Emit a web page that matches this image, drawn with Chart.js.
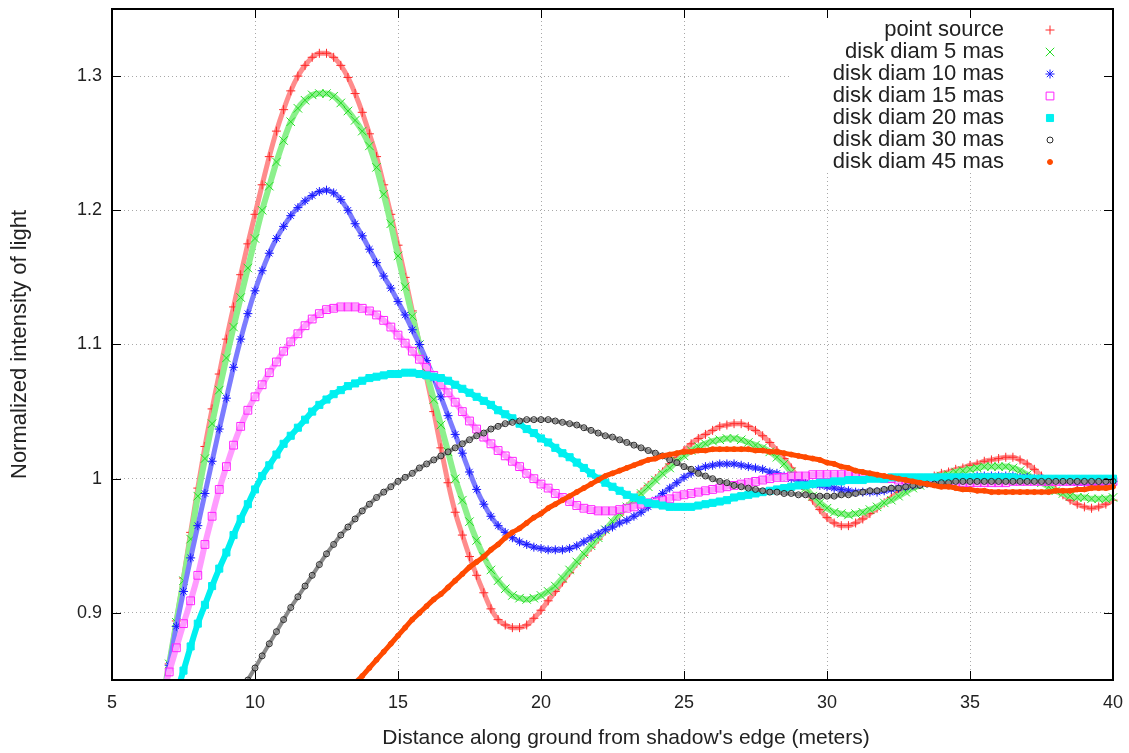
<!DOCTYPE html>
<html>
<head>
<meta charset="utf-8">
<title>Normalized intensity of light</title>
<script src="https://cdn.jsdelivr.net/npm/chart.js@4.4.1/dist/chart.umd.min.js"></script>
<style>
  html, body { margin: 0; padding: 0; background: #fff; }
  #wrap { width: 1129px; height: 753px; }
</style>
</head>
<body>
<div id="wrap"><canvas id="intensityChart" width="1129" height="753"></canvas></div>
<script>
// sample positions along the ground (m), one row per metre
const distance = [
  6.75,
  7, 7.25, 7.5, 7.75,
  8, 8.25, 8.5, 8.75,
  9, 9.25, 9.5, 9.75,
  10, 10.25, 10.5, 10.75,
  11, 11.25, 11.5, 11.75,
  12, 12.25, 12.5, 12.75,
  13, 13.25, 13.5, 13.75,
  14, 14.25, 14.5, 14.75,
  15, 15.25, 15.5, 15.75,
  16, 16.25, 16.5, 16.75,
  17, 17.25, 17.5, 17.75,
  18, 18.25, 18.5, 18.75,
  19, 19.25, 19.5, 19.75,
  20, 20.25, 20.5, 20.75,
  21, 21.25, 21.5, 21.75,
  22, 22.25, 22.5, 22.75,
  23, 23.25, 23.5, 23.75,
  24, 24.25, 24.5, 24.75,
  25, 25.25, 25.5, 25.75,
  26, 26.25, 26.5, 26.75,
  27, 27.25, 27.5, 27.75,
  28, 28.25, 28.5, 28.75,
  29, 29.25, 29.5, 29.75,
  30, 30.25, 30.5, 30.75,
  31, 31.25, 31.5, 31.75,
  32, 32.25, 32.5, 32.75,
  33, 33.25, 33.5, 33.75,
  34, 34.25, 34.5, 34.75,
  35, 35.25, 35.5, 35.75,
  36, 36.25, 36.5, 36.75,
  37, 37.25, 37.5, 37.75,
  38, 38.25, 38.5, 38.75,
  39, 39.25, 39.5, 39.75,
  40
];

const pointSource = [
  0.832,
  0.862, 0.894, 0.926, 0.96,
  0.993, 1.024, 1.052, 1.078,
  1.104, 1.128, 1.152, 1.175,
  1.197, 1.219, 1.24, 1.259,
  1.275, 1.289, 1.3, 1.308,
  1.314, 1.317, 1.317, 1.314,
  1.308, 1.299, 1.287, 1.273,
  1.257, 1.24, 1.219, 1.197,
  1.174, 1.15, 1.125, 1.1,
  1.075, 1.05, 1.023, 0.997,
  0.975, 0.958, 0.942, 0.928,
  0.915, 0.903, 0.895, 0.891,
  0.889, 0.889, 0.891, 0.896,
  0.902, 0.909, 0.916, 0.923,
  0.93, 0.937, 0.943, 0.949,
  0.955, 0.961, 0.967, 0.973,
  0.979, 0.984, 0.99, 0.995,
  1.0, 1.005, 1.011, 1.016,
  1.021, 1.026, 1.03, 1.033,
  1.036, 1.039, 1.04, 1.041,
  1.041, 1.039, 1.036, 1.032,
  1.027, 1.021, 1.015, 1.008,
  1.0, 0.992, 0.984, 0.977,
  0.971, 0.967, 0.965, 0.965,
  0.967, 0.97, 0.974, 0.978,
  0.982, 0.986, 0.99, 0.993,
  0.996, 0.998, 1.0, 1.002,
  1.004, 1.005, 1.007, 1.008,
  1.01, 1.011, 1.013, 1.014,
  1.015, 1.016, 1.016, 1.014,
  1.011, 1.007, 1.002, 0.997,
  0.992, 0.988, 0.984, 0.981,
  0.979, 0.978, 0.979, 0.981,
  0.984
];

const disk5 = [
  0.834,
  0.862, 0.893, 0.924, 0.955,
  0.987, 1.015, 1.041, 1.066,
  1.09, 1.113, 1.135, 1.157,
  1.179, 1.2, 1.218, 1.236,
  1.252, 1.266, 1.276, 1.282,
  1.286, 1.287, 1.287, 1.285,
  1.28, 1.274, 1.267, 1.259,
  1.248, 1.232, 1.212, 1.19,
  1.166, 1.143, 1.121, 1.1,
  1.079, 1.059, 1.04, 1.02,
  1.0, 0.984, 0.968, 0.954,
  0.942, 0.932, 0.924, 0.918,
  0.913, 0.911, 0.91, 0.911,
  0.913, 0.916, 0.92, 0.926,
  0.932, 0.938, 0.944, 0.95,
  0.956, 0.962, 0.968, 0.974,
  0.979, 0.984, 0.989, 0.994,
  0.999, 1.004, 1.008, 1.013,
  1.017, 1.021, 1.024, 1.026,
  1.028, 1.029, 1.03, 1.03,
  1.029, 1.027, 1.025, 1.023,
  1.02, 1.016, 1.011, 1.005,
  0.999, 0.993, 0.987, 0.982,
  0.978, 0.975, 0.974, 0.973,
  0.974, 0.975, 0.977, 0.979,
  0.982, 0.984, 0.987, 0.99,
  0.993, 0.995, 0.998, 1.0,
  1.002, 1.003, 1.005, 1.006,
  1.007, 1.008, 1.009, 1.009,
  1.009, 1.009, 1.008, 1.006,
  1.003, 1.0, 0.997, 0.994,
  0.991, 0.989, 0.987, 0.986,
  0.986, 0.985, 0.985, 0.985,
  0.986
];

const disk10 = [
  0.833,
  0.861, 0.89, 0.916, 0.941,
  0.965, 0.989, 1.013, 1.037,
  1.06, 1.083, 1.104, 1.123,
  1.14, 1.155, 1.168, 1.179,
  1.188, 1.196, 1.202, 1.207,
  1.211, 1.214, 1.215, 1.213,
  1.208, 1.2, 1.19, 1.181,
  1.171, 1.161, 1.151, 1.142,
  1.132, 1.122, 1.111, 1.1,
  1.088, 1.075, 1.061, 1.047,
  1.033, 1.019, 1.005, 0.992,
  0.981, 0.972, 0.965, 0.96,
  0.956, 0.953, 0.951, 0.949,
  0.948, 0.947, 0.947, 0.947,
  0.948, 0.95, 0.953, 0.956,
  0.959, 0.962, 0.964, 0.967,
  0.969, 0.972, 0.975, 0.979,
  0.984, 0.989, 0.993, 0.997,
  1.001, 1.004, 1.007, 1.009,
  1.01, 1.011, 1.011, 1.011,
  1.01, 1.009, 1.008, 1.007,
  1.005, 1.004, 1.002, 1.0,
  0.999, 0.997, 0.996, 0.995,
  0.994, 0.993, 0.992, 0.991,
  0.99, 0.99, 0.99, 0.99,
  0.991, 0.992, 0.993, 0.994,
  0.995, 0.996, 0.997, 0.998,
  0.999, 1.0, 1.0, 1.001,
  1.001, 1.002, 1.002, 1.002,
  1.002, 1.002, 1.002, 1.001,
  1.001, 1.0, 1.0, 0.999,
  0.999, 0.998, 0.998, 0.997,
  0.997, 0.997, 0.997, 0.997,
  0.998
];

const disk15 = [
  0.838,
  0.856, 0.874, 0.892, 0.909,
  0.928, 0.951, 0.972, 0.992,
  1.009, 1.025, 1.039, 1.051,
  1.061, 1.07, 1.079, 1.087,
  1.095, 1.102, 1.108, 1.114,
  1.119, 1.123, 1.126, 1.127,
  1.128, 1.128, 1.128, 1.127,
  1.125, 1.122, 1.118, 1.113,
  1.107, 1.101, 1.095, 1.089,
  1.083, 1.077, 1.07, 1.064,
  1.057, 1.05, 1.043, 1.037,
  1.031, 1.026, 1.021, 1.017,
  1.013, 1.009, 1.004, 1.0,
  0.996, 0.993, 0.989, 0.986,
  0.983, 0.98, 0.978, 0.977,
  0.976, 0.976, 0.976, 0.977,
  0.978, 0.979, 0.981, 0.982,
  0.983, 0.984, 0.985, 0.987,
  0.988, 0.989, 0.99, 0.991,
  0.992, 0.993, 0.994, 0.995,
  0.996, 0.997, 0.998, 0.999,
  1.0, 1.001, 1.001, 1.002,
  1.002, 1.002, 1.003, 1.003,
  1.003, 1.003, 1.003, 1.003,
  1.002, 1.002, 1.001, 1.001,
  1.0, 1.0, 0.999, 0.999,
  0.998, 0.998, 0.998, 0.997,
  0.997, 0.997, 0.997, 0.997,
  0.997, 0.997, 0.997, 0.997,
  0.997, 0.997, 0.998, 0.998,
  0.998, 0.998, 0.998, 0.998,
  0.998, 0.998, 0.998, 0.998,
  0.998, 0.998, 0.998, 0.998,
  0.998
];

const disk20 = [
  null,
  null, 0.84, 0.857, 0.875,
  0.892, 0.906, 0.92, 0.933,
  0.945, 0.958, 0.97, 0.981,
  0.992, 1.002, 1.01, 1.018,
  1.026, 1.032, 1.038, 1.044,
  1.05, 1.055, 1.059, 1.063,
  1.066, 1.069, 1.071, 1.073,
  1.075, 1.076, 1.077, 1.078,
  1.078, 1.079, 1.079, 1.078,
  1.077, 1.076, 1.075, 1.073,
  1.07, 1.067, 1.064, 1.061,
  1.058, 1.055, 1.051, 1.048,
  1.045, 1.041, 1.037, 1.034,
  1.03, 1.027, 1.023, 1.019,
  1.016, 1.012, 1.008, 1.004,
  1.0, 0.997, 0.994, 0.991,
  0.988, 0.986, 0.984, 0.982,
  0.981, 0.98, 0.979, 0.979,
  0.979, 0.979, 0.98, 0.981,
  0.982, 0.983, 0.984, 0.986,
  0.987, 0.988, 0.989, 0.99,
  0.991, 0.992, 0.993, 0.994,
  0.995, 0.995, 0.996, 0.997,
  0.997, 0.998, 0.998, 0.999,
  0.999, 0.999, 1.0, 1.0,
  1.0, 1.001, 1.001, 1.001,
  1.001, 1.001, 1.001, 1.001,
  1.001, 1.001, 1.001, 1.001,
  1.001, 1.001, 1.001, 1.001,
  1.001, 1.001, 1.001, 1.0,
  1.0, 1.0, 1.0, 1.0,
  1.0, 1.0, 1.0, 1.0,
  1.0, 1.0, 1.0, 1.0,
  1.0
];

const disk30 = [
  null,
  null, null, null, null,
  null, null, null, null,
  null, null, 0.84, 0.85,
  0.859, 0.868, 0.877, 0.886,
  0.895, 0.904, 0.912, 0.92,
  0.928, 0.936, 0.944, 0.951,
  0.958, 0.964, 0.97, 0.976,
  0.981, 0.986, 0.99, 0.994,
  0.998, 1.001, 1.004, 1.008,
  1.011, 1.014, 1.017, 1.02,
  1.023, 1.026, 1.029, 1.032,
  1.034, 1.037, 1.039, 1.041,
  1.042, 1.043, 1.044, 1.044,
  1.044, 1.044, 1.043, 1.042,
  1.041, 1.04, 1.038, 1.036,
  1.034, 1.032, 1.031, 1.029,
  1.027, 1.025, 1.023, 1.021,
  1.019, 1.017, 1.014, 1.012,
  1.009, 1.007, 1.004, 1.002,
  1.0, 0.998, 0.997, 0.995,
  0.994, 0.993, 0.992, 0.991,
  0.99, 0.99, 0.989, 0.989,
  0.988, 0.988, 0.987, 0.987,
  0.987, 0.987, 0.988, 0.988,
  0.989, 0.99, 0.991, 0.991,
  0.992, 0.993, 0.993, 0.994,
  0.995, 0.995, 0.996, 0.996,
  0.997, 0.997, 0.998, 0.998,
  0.998, 0.998, 0.998, 0.998,
  0.998, 0.998, 0.998, 0.998,
  0.998, 0.998, 0.998, 0.998,
  0.998, 0.998, 0.998, 0.998,
  0.998, 0.998, 0.998, 0.998,
  0.998
];

const disk45 = [
  null,
  null, null, null, null,
  null, null, null, null,
  null, null, null, null,
  null, null, null, null,
  null, null, null, null,
  null, null, null, null,
  null, null, 0.848, 0.853,
  0.859, 0.865, 0.871, 0.877,
  0.883, 0.889, 0.895, 0.9,
  0.905, 0.91, 0.914, 0.919,
  0.924, 0.929, 0.934, 0.938,
  0.942, 0.947, 0.951, 0.956,
  0.96, 0.963, 0.967, 0.971,
  0.974, 0.978, 0.981, 0.984,
  0.987, 0.99, 0.993, 0.996,
  0.999, 1.002, 1.004, 1.006,
  1.008, 1.01, 1.012, 1.014,
  1.015, 1.017, 1.018, 1.019,
  1.02, 1.02, 1.021, 1.021,
  1.022, 1.022, 1.022, 1.022,
  1.022, 1.022, 1.021, 1.021,
  1.02, 1.02, 1.019, 1.018,
  1.017, 1.016, 1.015, 1.014,
  1.012, 1.011, 1.009, 1.008,
  1.006, 1.005, 1.004, 1.003,
  1.002, 1.001, 1.0, 0.999,
  0.998, 0.997, 0.996, 0.995,
  0.994, 0.994, 0.993, 0.992,
  0.992, 0.991, 0.991, 0.99,
  0.99, 0.99, 0.99, 0.99,
  0.99, 0.99, 0.99, 0.99,
  0.991, 0.991, 0.991, 0.992,
  0.992, 0.993, 0.993, 0.993,
  0.994
];

const seriesNames = [
  'point source', 'disk diam 5 mas', 'disk diam 10 mas', 'disk diam 15 mas',
  'disk diam 20 mas', 'disk diam 30 mas', 'disk diam 45 mas'
];
const xTicks = [5, 10, 15, 20, 25, 30, 35, 40];
const yTicks = [0.9, 1, 1.1, 1.2, 1.3];
const xTitle = "Distance along ground from shadow's edge (meters)";
const yTitle = 'Normalized intensity of light';

const FONT = '"Liberation Sans", Arial, Helvetica, sans-serif';

function toPoints(values) {
  return distance.map((x, i) => ({ x: x, y: values[i] }));
}

// band = connecting line (lighter), marker = point outline
function series(label, values, band, marker, style, radius, width, opts) {
  return Object.assign({
    label: label,
    data: toPoints(values),
    showLine: true,
    borderColor: band,
    borderWidth: width,
    pointStyle: style,
    pointRadius: radius,
    pointBorderColor: marker,
    pointBackgroundColor: 'rgba(0,0,0,0)',
    pointBorderWidth: 1,
    cubicInterpolationMode: 'monotone',
    clip: { left: 0, top: 0, right: 6, bottom: 0 }
  }, opts || {});
}

// keep the plot box fixed, no extra room for tick labels
function noPadding(scale) {
  scale.paddingTop = 0;
  scale.paddingBottom = 0;
  scale.paddingLeft = 0;
  scale.paddingRight = 0;
}

// gnuplot-like frame, inward ticks, axis titles and the key
const frameAndKey = {
  id: 'frameAndKey',
  beforeDatasetsDraw(chart) {
    const ctx = chart.ctx;
    const a = chart.chartArea;
    ctx.save();
    ctx.fillStyle = '#fff';
    ctx.fillRect(a.right - 323, a.top + 8, 321, 156);
    ctx.restore();
  },
  afterDraw(chart) {
    const ctx = chart.ctx;
    const a = chart.chartArea;
    const sx = chart.scales.x, sy = chart.scales.y;
    ctx.save();
    ctx.strokeStyle = '#000';
    ctx.lineWidth = 1;
    ctx.beginPath();
    xTicks.forEach(v => {
      const px = Math.round(sx.getPixelForValue(v)) + 0.5;
      ctx.moveTo(px, a.bottom); ctx.lineTo(px, a.bottom - 9);
      ctx.moveTo(px, a.top); ctx.lineTo(px, a.top + 9);
    });
    yTicks.forEach(v => {
      const py = Math.round(sy.getPixelForValue(v)) + 0.5;
      ctx.moveTo(a.left, py); ctx.lineTo(a.left + 9, py);
      ctx.moveTo(a.right, py); ctx.lineTo(a.right - 9, py);
    });
    ctx.stroke();
    ctx.lineWidth = 2;
    ctx.strokeRect(a.left, a.top, a.right - a.left, a.bottom - a.top);

    // axis titles
    ctx.fillStyle = '#222';
    ctx.textAlign = 'center';
    ctx.textBaseline = 'middle';
    ctx.font = '21px ' + FONT;
    ctx.fillText(xTitle, 626, 738);
    ctx.save();
    ctx.translate(20, (a.top + a.bottom) / 2);
    ctx.rotate(-Math.PI / 2);
    ctx.font = '22px ' + FONT;
    ctx.fillText(yTitle, 0, 0);
    ctx.restore();

    // key
    ctx.font = '22px ' + FONT;
    ctx.textAlign = 'right';
    ctx.textBaseline = 'middle';
    chart.data.datasets.forEach((ds, i) => {
      const y = a.top + 21 + i * 22;
      ctx.fillStyle = '#222';
      ctx.fillText(ds.label, a.right - 109, y);
      ctx.strokeStyle = ds.pointBorderColor;
      ctx.fillStyle = ds.pointBackgroundColor;
      ctx.lineWidth = ds.pointBorderWidth;
      Chart.helpers.drawPoint(ctx, {
        pointStyle: ds.pointStyle, radius: ds.pointRadius,
        borderWidth: ds.pointBorderWidth, rotation: 0
      }, a.right - 63, y);
    });
    ctx.restore();
  }
};

const datasets = [
  series(seriesNames[0], pointSource, '#ff8c8c', '#ff2a2a', 'cross', 4.5, 5, { order: 7 }),
  series(seriesNames[1], disk5, '#8cf08c', '#22dd22', 'crossRot', 6, 6, { order: 6 }),
  series(seriesNames[2], disk10, '#7c7cff', '#1a1aff', 'star', 4.5, 5, { order: 5 }),
  series(seriesNames[3], disk15, '#ff9cff', '#ff22ff', 'rect', 5.5, 6, { order: 4 }),
  series(seriesNames[4], disk20, '#00f0f0', '#00f0f0', 'rect', 5, 6, {
    order: 3, pointBackgroundColor: '#00f0f0'
  }),
  series(seriesNames[5], disk30, '#8a8a8a', '#2a2a2a', 'circle', 3, 4, { order: 2 }),
  series(seriesNames[6], disk45, '#ff4a00', '#ff4a00', 'circle', 2.5, 5, {
    order: 1, pointBackgroundColor: '#ff4a00'
  })
];

const ctx = document.getElementById('intensityChart').getContext('2d');
const intensityChart = new Chart(ctx, {
  type: 'line',
  data: { datasets: datasets },
  options: {
    responsive: false,
    devicePixelRatio: 1,
    animation: false,
    events: [],
    layout: { autoPadding: false, padding: { left: 0, top: 9, right: 16, bottom: 0 } },
    plugins: {
      legend: { display: false },
      tooltip: { enabled: false }
    },
    scales: {
      x: {
        type: 'linear',
        min: 5,
        max: 40,
        afterBuildTicks: scale => { scale.ticks = xTicks.map(v => ({ value: v })); },
        afterFit: scale => { scale.height = 73; noPadding(scale); },
        ticks: {
          callback: v => String(v),
          color: '#222',
          padding: 12,
          maxRotation: 0,
          font: { family: FONT, size: 18 }
        },
        grid: { color: '#a8a8a8', lineWidth: 1, drawTicks: false },
        border: { display: false, dash: [1, 3] }
      },
      y: {
        type: 'linear',
        min: 0.85,
        max: 1.35,
        afterBuildTicks: scale => { scale.ticks = yTicks.map(v => ({ value: v })); },
        afterFit: scale => { scale.width = 112; noPadding(scale); },
        ticks: {
          callback: v => String(v),
          color: '#222',
          padding: 10,
          font: { family: FONT, size: 18 }
        },
        grid: { color: '#a8a8a8', lineWidth: 1, drawTicks: false },
        border: { display: false, dash: [1, 3] }
      }
    }
  },
  plugins: [frameAndKey]
});
</script>
</body>
</html>
